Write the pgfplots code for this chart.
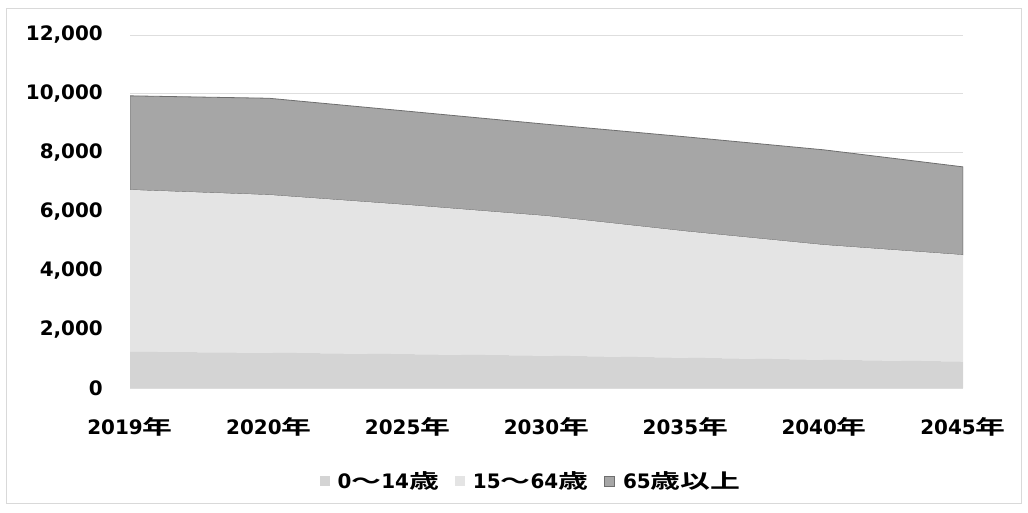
\documentclass[border=0pt]{standalone}
\usepackage{pgfplots}
\pgfplotsset{compat=1.18}
\usepackage{fontspec}
\usepackage{graphicx}
\setmainfont{DejaVu Sans}
\newfontfamily\cjk{Noto Sans CJK JP}[BoldFont=* Bold]
\newcommand\jp[1]{\scalebox{1.5}[1]{\cjk\bfseries #1}}

\definecolor{cyoung}{RGB}{212,212,212}
\definecolor{cwork}{RGB}{228,228,228}
\definecolor{cold}{RGB}{166,166,166}
\definecolor{coldedge}{RGB}{110,110,110}
\definecolor{gridc}{RGB}{222,222,222}

\begin{document}
\begin{tikzpicture}
\begin{axis}[
    at={(130bp,-388bp)}, anchor=south west,
    scale only axis, width=833bp, height=353bp,
    xmin=0, xmax=6, ymin=0, ymax=12000,
    xtick={0,...,6},
    xticklabels={2019\jp{年},2020\jp{年},2025\jp{年},2030\jp{年},2035\jp{年},2040\jp{年},2045\jp{年}},
    ytick={0,2000,...,12000},
    scaled y ticks=false,
    ymajorgrids,
    major grid style={gridc, line width=1bp},
    axis line style={draw=none},
    major tick length=0pt,
    tick label style={font=\fontsize{20}{23}\selectfont\bfseries},
    yticklabel style={anchor=east, inner sep=0pt, xshift=-27bp,
      /pgf/number format/1000 sep={,}, /pgf/number format/assume math mode=true},
    xticklabel style={anchor=north, inner sep=0pt, yshift=-29bp},
    stack plots=y,
    legend image code/.code={\fill[#1] (0bp,-5bp) rectangle (10bp,5bp);},
    legend style={at={(axis description cs:0.485,0)}, anchor=center, yshift=-93bp,
      draw=none, fill=none, legend columns=-1,
      font=\fontsize{20}{23}\selectfont\bfseries,
      nodes={inner xsep=8bp},
      /tikz/every even column/.append style={column sep=8bp}},
  ]
  % 0-14
  \addplot[fill=cyoung, draw=none] coordinates {(0,1230) (1,1200) (2,1150) (3,1100) (4,1030) (5,960) (6,900)} \closedcycle;
  % 15-64
  \addplot[fill=cwork, draw=none] coordinates {(0,5505) (1,5365) (2,5074) (3,4750) (4,4300) (5,3904) (6,3624)} \closedcycle;
  % 65+
  \addplot[fill=cold, draw=coldedge, line width=0.8bp] coordinates {(0,3197) (1,3285) (2,3186) (3,3116) (4,3210) (5,3231) (6,2993)} \closedcycle;
  \legend{0\jp{～}14\jp{歳}, 15\jp{～}64\jp{歳}, 65\jp{歳以上}}
\end{axis}
\draw[gray!30, line width=1bp] (6bp,-8bp) rectangle (1021bp,-503bp);
\pgfresetboundingbox
\path[use as bounding box] (0,0) rectangle (1028bp,-513bp);
\end{tikzpicture}
\end{document}
